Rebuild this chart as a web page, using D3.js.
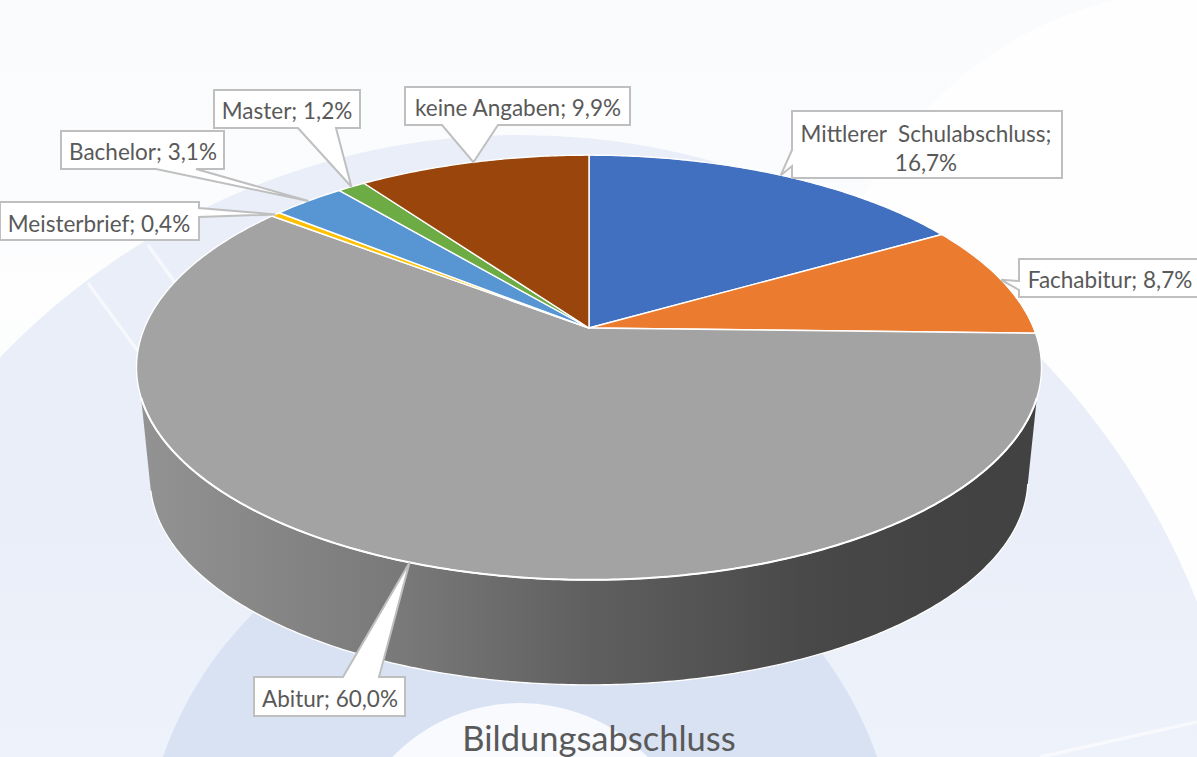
<!DOCTYPE html>
<html><head><meta charset="utf-8">
<script src="https://cdn.jsdelivr.net/npm/d3@7"></script>
<style>html,body{margin:0;padding:0;background:#fff}svg{display:block}text{font-family:Lato,"Noto Sans",sans-serif;fill:#595959;white-space:pre}</style>
</head><body>
<svg id="c" width="1197" height="757"></svg>
<script>
const categories=["Mittlerer  Schulabschluss","Fachabitur","Abitur","Meisterbrief","Bachelor","Master","keine Angaben"];
const values=[16.7,8.7,60.0,0.4,3.1,1.2,9.9];
const colors=["#4170c0","#ea7b2f","#a3a3a3","#ffc000","#5796d3","#6dab45","#99450b"];
const titleText="Bildungsabschluss";

const W=1197,H=757;
const svg=d3.select("#c");
const defs=svg.append("defs");
function grad(id,stops,x1,y1,x2,y2){
  const g=defs.append("linearGradient").attr("id",id).attr("gradientUnits","userSpaceOnUse")
    .attr("x1",x1).attr("y1",y1).attr("x2",x2).attr("y2",y2);
  stops.forEach(s=>g.append("stop").attr("offset",s[0]).attr("stop-color",s[1]));
}
grad("bg",[[0,"#fafbfd"],[.3,"#fbfcfe"],[.37,"#fefefe"],[.5,"#fcfdfe"],[1,"#fafbfe"]],0,0,0,H);
grad("band",[[0,"#e9eef8"],[.6,"#e9eef8"],[1,"#eef2fb"]],0,130,0,H);
grad("wall",[[0,"#939393"],[.3,"#787878"],[.5,"#5f5f5f"],[.75,"#484848"],[.92,"#424242"],[1,"#424242"]],140,0,1040,0);

// background artwork
const bg=svg.append("g");
bg.append("rect").attr("width",W).attr("height",H).attr("fill","url(#bg)");
bg.append("circle").attr("cx",1210).attr("cy",380).attr("r",392).attr("fill","#fefefe");
bg.append("ellipse").attr("cx",520).attr("cy",881).attr("rx",730).attr("ry",746).attr("fill","url(#band)");
bg.append("circle").attr("cx",520).attr("cy",881).attr("r",378).attr("fill","#d9e2f3");
bg.append("circle").attr("cx",520).attr("cy",881).attr("r",178).attr("fill","#f8fafd");
[[88,283,140,354],[148,245,176,284],[1040,757,1197,722]].forEach(l=>{
  bg.append("line").attr("x1",l[0]).attr("y1",l[1]).attr("x2",l[2]).attr("y2",l[3])
    .attr("stroke","#fbfcfe").attr("stroke-width",3.5).attr("opacity",.75);
});

// perspective projection of the pie disc
const apexX=589,apexY=328,persp=.186,radX=444.6,radY=205;
function project(a,s,y0){
  const u=Math.sin(a),v=Math.cos(a),d=1+persp*v;
  return [apexX+s*radX*u/d,y0-s*radY*v/d];
}
const line=d3.line();
const arcs=d3.pie().sort(null).value(d=>d)(values);
function rim(a0,a1,s,y0){
  const n=Math.max(2,Math.ceil(Math.abs(a1-a0)/.01));
  return d3.range(n+1).map(i=>project(a0+(a1-a0)*i/n,s,y0));
}

// side wall
const lowS=.97,lowY=440.6;
const wallTop=rim(Math.PI-Math.acos(.321),Math.PI+Math.acos(.32),1,apexY);
const wallLow=rim(Math.PI+Math.acos(.24),Math.PI-Math.acos(.21),lowS,lowY);
svg.append("path").attr("d",line(wallTop.concat(wallLow))+"Z")
  .attr("fill","url(#wall)").attr("stroke","none");
svg.append("path").attr("d",line(wallLow)).attr("fill","none").attr("stroke","#fff").attr("stroke-width",1.3);

// top slices
svg.append("g").selectAll("path").data(arcs).join("path")
  .attr("d",d=>line([[apexX,apexY]].concat(rim(d.startAngle,d.endAngle,1,apexY)))+"Z")
  .attr("fill",(d,i)=>colors[i])
  .attr("stroke","#fff").attr("stroke-width",1.4).attr("stroke-linejoin","round");
svg.append("path").attr("d",line(rim(arcs[0].startAngle,arcs[1].endAngle,1,apexY))).attr("fill","none").attr("stroke","#fbfcfe").attr("stroke-width",0.6);
svg.append("path").attr("d",line(wallTop)).attr("fill","none").attr("stroke","#fff").attr("stroke-width",2);

// callouts: box [x0,y0,x1,y1], pointer side and its two base points
const fontSize=22.5;
const boxes=[
 {b:[792,111,1062,178],side:"l",p:[150,166],lines:[[926,133],[926,162]]},
 {b:[1019,259,1200,297],side:"l",p:[281,290],lines:[[1110,279]]},
 {b:[254,677,405,716],side:"t",p:[343,379],lines:[[330,698]]},
 {b:[0,202,199,240],side:"r",p:[208,217],lines:[[99,223]]},
 {b:[61,131,224,169],side:"b",p:[156,196],lines:[[143,151]]},
 {b:[214,90,360,128],side:"b",p:[298,336],lines:[[287,110]]},
 {b:[405,87,630,125],side:"b",p:[442,498],lines:[[518,107]]}
];
const labels=categories.map((c,i)=>{
  const v=values[i].toFixed(1).replace(".",",")+"%";
  return boxes[i].lines.length>1?[c+";",v]:[c+"; "+v];
});
const g=svg.append("g");
boxes.forEach((bx,i)=>{
  const a=(arcs[i].startAngle+arcs[i].endAngle)/2, tip=project(a,1,apexY);
  const [x0,y0,x1,y1]=bx.b; let pts;
  if(bx.side==="l") pts=[[x0,y0],[x1,y0],[x1,y1],[x0,y1],[x0,bx.p[1]],tip,[x0,bx.p[0]]];
  if(bx.side==="r") pts=[[x0,y0],[x1,y0],[x1,bx.p[0]],tip,[x1,bx.p[1]],[x1,y1],[x0,y1]];
  if(bx.side==="t") pts=[[x0,y0],[bx.p[0],y0],tip,[bx.p[1],y0],[x1,y0],[x1,y1],[x0,y1]];
  if(bx.side==="b") pts=[[x0,y0],[x1,y0],[x1,y1],[bx.p[1],y1],tip,[bx.p[0],y1],[x0,y1]];
  g.append("path").attr("d",line(pts)+"Z").attr("fill","#fff").attr("stroke","#bfbfbf").attr("stroke-width",2);
  labels[i].forEach((t,k)=>{
    g.append("text").attr("x",bx.lines[k][0]).attr("y",bx.lines[k][1]).attr("text-anchor","middle")
      .attr("dominant-baseline","central").attr("font-size",fontSize).text(t);
  });
});
svg.append("text").attr("x",599).attr("y",751).attr("text-anchor","middle").attr("font-size",34.5).text(titleText);
</script>
</body></html>
